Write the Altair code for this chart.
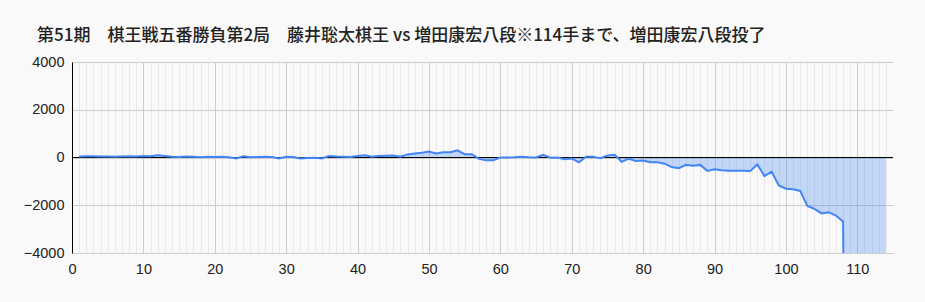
import altair as alt
import pandas as pd

title_text = "第51期　棋王戦五番勝負第2局　藤井聡太棋王 vs 増田康宏八段※114手まで、増田康宏八段投了"

moves = list(range(1, 115))
scores = [
    40, 50, 50, 40, 40, 30, 40, 50, 40, 60,
    50, 90, 60, 30, 20, 40, 30, 10, 30, 20,
    30, 10, -40, 50, 10, 20, 30, 20, -40, 30,
    20, -40, -20, -10, -40, 60, 40, 30, 20, 60,
    90, 30, 60, 70, 80, 30, 130, 170, 200, 250,
    170, 220, 220, 300, 140, 140, -60, -120, -120, 0,
    0, 10, 30, 10, 0, 110, -10, 0, -70, -40,
    -200, 30, 30, -30, 80, 110, -180, -50, -150, -130,
    -200, -200, -260, -400, -450, -310, -350, -310, -560, -490,
    -530, -550, -560, -560, -570, -290, -780, -590, -1170, -1310,
    -1330, -1400, -2030, -2150, -2340, -2290, -2430, -2680, -31111, -31111,
    -31111, -31111, -31111, -31111,
]

y_ticks = [-4000, -2000, 0, 2000, 4000]
x_tick_values = list(range(0, 115))

df = pd.DataFrame({"move": moves, "score": scores})

W, H = 821, 191

x_enc = alt.X(
    "move:Q",
    scale=alt.Scale(domain=[0, 115], nice=False, zero=False),
    axis=alt.Axis(
        title=None,
        values=x_tick_values,
        labelExpr="datum.value % 10 === 0 ? datum.label : ''",
        labelOverlap=False,
        labelFlush=False,
        ticks=False,
        domain=False,
        grid=True,
        gridColor={"condition": {"test": "datum.value % 10 === 0", "value": "#cccccc"}, "value": "#e9e9e9"},
        gridWidth=1,
        labelPadding=9,
        labelFontSize=14.5,
        labelColor="#222222",
        labelFont="Liberation Sans",
    ),
)

y_enc = alt.Y(
    "score:Q",
    scale=alt.Scale(domain=[-4000, 4000], nice=False),
    axis=alt.Axis(
        title=None,
        values=y_ticks,
        format="d",
        ticks=False,
        domain=True,
        domainColor="#000000",
        grid=True,
        gridColor="#cccccc",
        labelPadding=8,
        labelFontSize=14.5,
        labelColor="#222222",
        labelFont="Liberation Sans",
    ),
)

base = alt.Chart(df)

area = base.mark_area(color="#4285f4", opacity=0.3, clip=True).encode(
    x=x_enc, y=y_enc, y2=alt.datum(0)
)
line = base.mark_line(color="#4285f4", strokeWidth=2, clip=True).encode(
    x=x_enc, y=y_enc
)
zero = base.mark_rule(color="#000000", strokeWidth=1).encode(y=alt.datum(0))

chart = (
    alt.layer(area, zero, line)
    .properties(
        width=W,
        height=H,
        autosize=alt.AutoSizeParams(type="none"),
        padding={"left": 72, "top": 62, "right": 32, "bottom": 49},
        background="#f9f9f9",
        title=alt.TitleParams(
            text=title_text,
            anchor="start",
            frame="group",
            dx=-35,
            offset=9,
            fontSize=17,
            fontWeight=500,
            font="Noto Sans CJK JP",
            color="#222222",
        ),
    )
    .configure_view(stroke=None)
)

chart.save("out.html", embed_options={"renderer": "svg", "actions": False})
